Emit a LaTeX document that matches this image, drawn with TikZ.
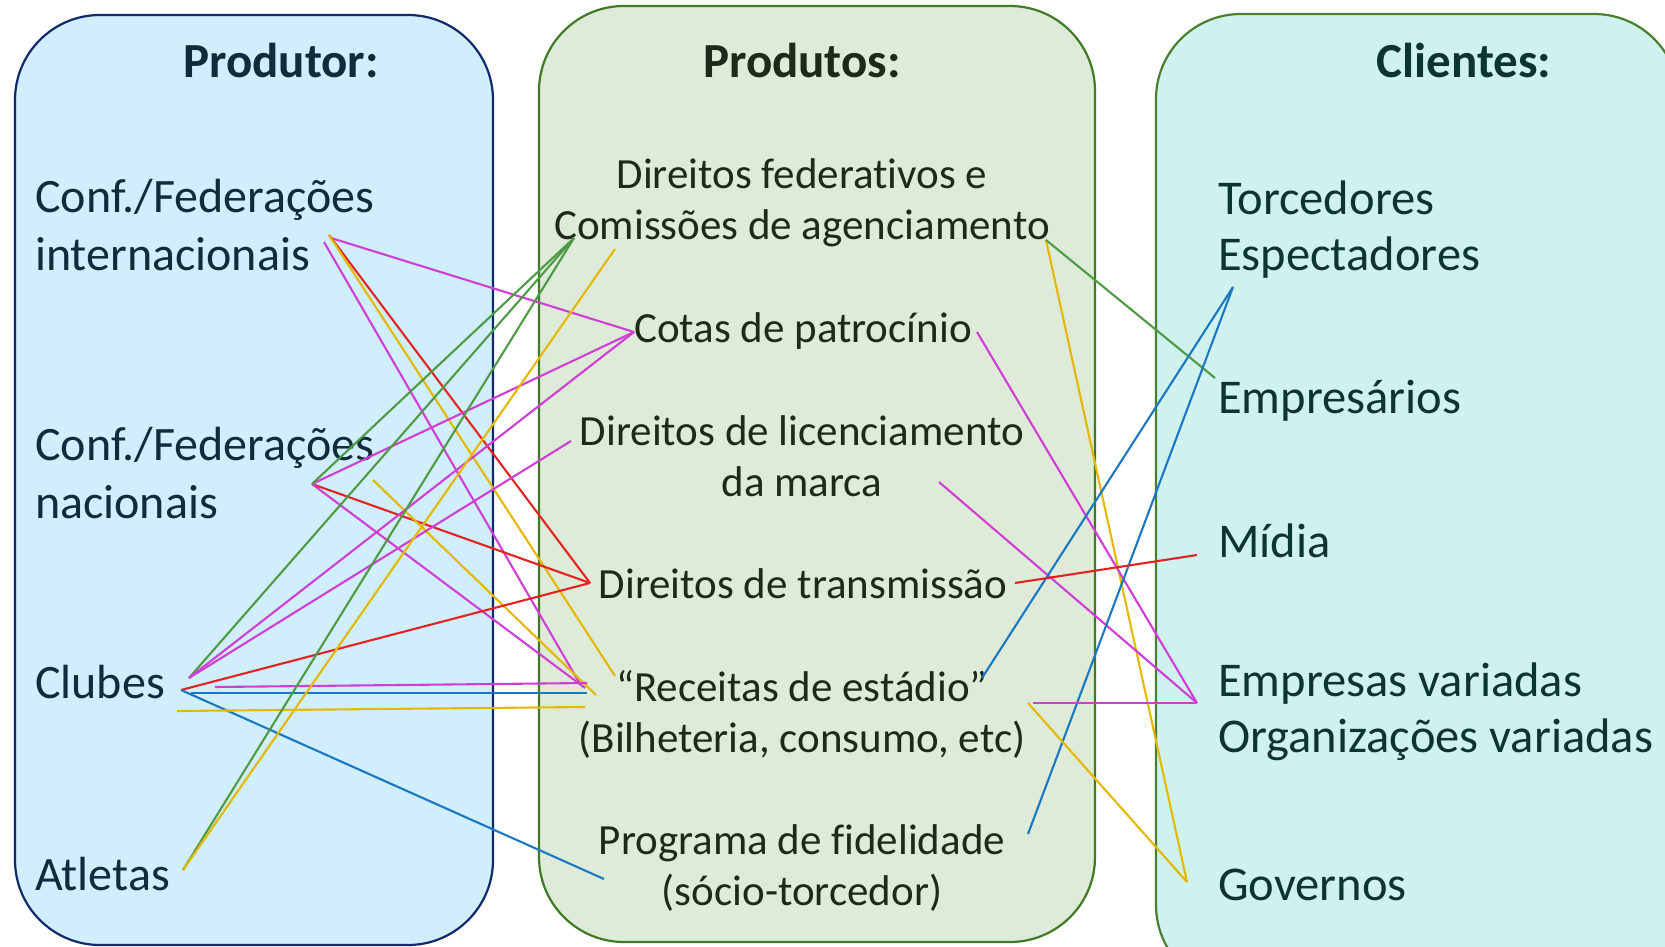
\documentclass[tikz,border=0pt]{standalone}
\usepackage{fontspec}
\setmainfont{Carlito}[Ligatures=NoCommon]
\definecolor{lfill}{HTML}{D0EEFB}
\definecolor{lline}{HTML}{102A6A}
\definecolor{mfill}{HTML}{DFEBD9}
\definecolor{mline}{HTML}{407A25}
\definecolor{rfill}{HTML}{D0F2EF}
\definecolor{rline}{HTML}{4B7F2E}
\definecolor{ltext}{HTML}{0E2C3A}
\definecolor{mtext}{HTML}{1E2A19}
\definecolor{rtext}{HTML}{0C3431}
\definecolor{cgreen}{HTML}{4E9A45}
\definecolor{cmag}{HTML}{D03ED6}
\definecolor{cred}{HTML}{E42222}
\definecolor{cyel}{HTML}{E5B800}
\definecolor{cblue}{HTML}{1A78C2}
\begin{document}
\begin{tikzpicture}[x=1pt,y=-1pt,
  panel/.style={line width=2.2pt,rounded corners=85pt},
  ttl/.style={font=\fontsize{49}{58}\selectfont\bfseries,anchor=base,inner sep=0pt},
  ltxt/.style={font=\fontsize{48}{58}\selectfont,align=left,anchor=base west,inner sep=0pt,text=ltext},
  mtxt/.style={font=\fontsize{43}{51}\selectfont,align=center,anchor=base,inner sep=0pt,text=mtext},
  rtxt/.style={font=\fontsize{48.5}{56}\selectfont,align=left,anchor=base west,inner sep=0pt,text=rtext},
  link/.style={line width=2.1pt}]
\useasboundingbox (0,0) rectangle (1665,947);
% panels
\draw[panel,draw=lline,fill=lfill] (15,15) rectangle (493,945);
\draw[panel,draw=mline,fill=mfill] (539,6) rectangle (1095,942);
\draw[panel,draw=rline,fill=rfill] (1156,14) rectangle (1679,990);
% titles
\node[ttl,text=ltext] (t1) at (281,78) {Produtor:};
\node[ttl,text=mtext] (t2) at (802,78) {Produtos:};
\node[ttl,text=rtext] (t3) at (1464,78) {Clientes:};
% left (base anchor = baseline of last line)
\node[ltxt] (fi) at (35,270) {Conf./Federações\\internacionais};
\node[ltxt] (fn) at (35,518) {Conf./Federações\\nacionais};
\node[ltxt] (cl) at (35,698) {Clubes};
\node[ltxt] (at) at (35,890) {Atletas};
% middle
\node[mtxt] (dfc) at (802,239) {Direitos federativos e\\Comissões de agenciamento};
\node[mtxt] (cot) at (803,342) {Cotas de patrocínio};
\node[mtxt] (lic) at (802,496) {Direitos de licenciamento\\da marca};
\node[mtxt] (tra) at (803,598) {Direitos de transmissão};
\node[mtxt] (rec) at (802,752) {“Receitas de estádio”\\(Bilheteria, consumo, etc)};
\node[mtxt] (pro) at (802,905) {Programa de fidelidade\\(sócio-torcedor)};
% right
\node[rtxt] (tor) at (1218,270) {Torcedores\\Espectadores};
\node[rtxt] (emp) at (1218,413) {Empresários};
\node[rtxt] (mid) at (1218,557) {Mídia};
\node[rtxt] (ev) at (1218,752) {Empresas variadas\\Organizações variadas};
\node[rtxt] (gov) at (1218,900) {Governos};
% connector end points
\coordinate (fiA) at (331,238);
\coordinate (fiB) at (324,242);
\coordinate (fiC) at (329,235);
\coordinate (fnA) at (312,484);
\coordinate (fnY) at (373,480);
\coordinate (clG) at (189,678);
\coordinate (clR) at (181,690);
\coordinate (clM) at (215,687);
\coordinate (clB) at (191,693);
\coordinate (clY) at (177,711);
\coordinate (atA) at (183,870);
\coordinate (dfcL) at (574,238);
\coordinate (dfcY) at (615,249);
\coordinate (dfcR) at (1046,240);
\coordinate (cotL) at (634,332);
\coordinate (cotR) at (977,332);
\coordinate (licL) at (571,441);
\coordinate (licR) at (939,482);
\coordinate (traL) at (590,583);
\coordinate (traR) at (1015,583);
\coordinate (recA) at (585,688);
\coordinate (recB) at (580,684);
\coordinate (recQ) at (615,676);
\coordinate (recY) at (596,695);
\coordinate (recM) at (587,683);
\coordinate (recBl) at (587,693);
\coordinate (recYh) at (585,707);
\coordinate (recR) at (982,678);
\coordinate (recRM) at (1033,703);
\coordinate (recRY) at (1028,703);
\coordinate (proL) at (604,879);
\coordinate (proR) at (1028,834);
\coordinate (torP) at (1233,287);
\coordinate (empP) at (1215,378);
\coordinate (midP) at (1197,555);
\coordinate (evP) at (1197,703);
\coordinate (govP) at (1187,882);
% left connectors
\draw[link,cmag] (fiA) -- (cotL);
\draw[link,cmag] (fiB) -- (recB);
\draw[link,cred] (fiC) -- (traL);
\draw[link,cyel] (fiC) -- (recQ);
\draw[link,cmag] (fnA) -- (cotL);
\draw[link,cred] (fnA) -- (traL);
\draw[link,cmag] (fnA) -- (recA);
\draw[link,cgreen] (fnA) -- (dfcL);
\draw[link,cyel] (fnY) -- (recY);
\draw[link,cgreen] (clG) -- (dfcL);
\draw[link,cmag] (clG) -- (cotL);
\draw[link,cmag] (clG) -- (licL);
\draw[link,cred] (clR) -- (traL);
\draw[link,cblue] (clR) -- (proL);
\draw[link,cmag] (clM) -- (recM);
\draw[link,cblue] (clB) -- (recBl);
\draw[link,cyel] (clY) -- (recYh);
\draw[link,cgreen] (atA) -- (dfcL);
\draw[link,cyel] (atA) -- (dfcY);
% right connectors
\draw[link,cyel] (dfcR) -- (govP);
\draw[link,cgreen] (dfcR) -- (empP);
\draw[link,cmag] (cotR) -- (evP);
\draw[link,cmag] (licR) -- (evP);
\draw[link,cblue] (torP) -- (recR);
\draw[link,cblue] (torP) -- (proR);
\draw[link,cred] (traR) -- (midP);
\draw[link,cmag] (recRM) -- (evP);
\draw[link,cyel] (recRY) -- (govP);
\end{tikzpicture}
\end{document}
